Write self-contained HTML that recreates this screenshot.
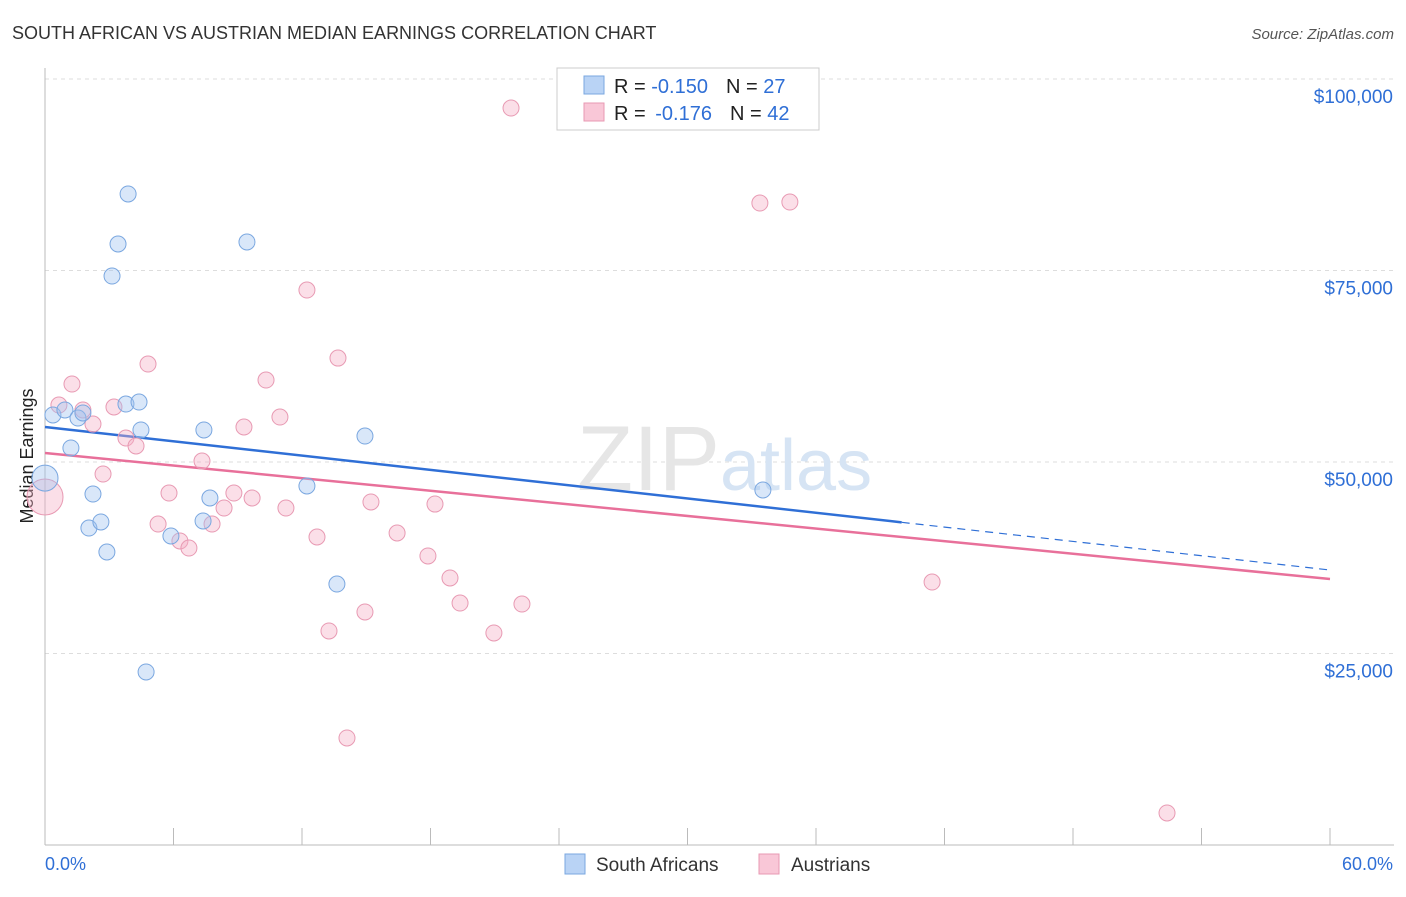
<!DOCTYPE html>
<html><head><meta charset="utf-8"><style>
body{margin:0;background:#fff;font-family:"Liberation Sans",sans-serif;}
svg text{font-family:"Liberation Sans",sans-serif;}
</style></head><body>
<svg id="chart" width="1406" height="892">
<text x="12" y="39" font-size="18" fill="#333">SOUTH AFRICAN VS AUSTRIAN MEDIAN EARNINGS CORRELATION CHART</text>
<text x="1394" y="39" font-size="15" fill="#555" font-style="italic" text-anchor="end">Source: ZipAtlas.com</text>
<text x="27" y="456" font-size="18" fill="#222" text-anchor="middle" dominant-baseline="central" transform="rotate(-90 27 456)">Median Earnings</text>
<g id="grid"></g>
<text x="720" y="490" font-size="92" fill="#e6e6e6" text-anchor="end" font-family="Liberation Serif">ZIP</text>
<text x="720" y="490" font-size="72" fill="#d6e4f4">atlas</text>
<g id="lines"></g>
<g id="points"></g>
<g>
<rect x="557" y="68" width="262" height="62" fill="#fff" stroke="#ccc"/>
<rect x="584" y="76" width="20" height="18" fill="#b9d3f5" stroke="#7aa7e0"/>
<rect x="584" y="103" width="20" height="18" fill="#f9c7d7" stroke="#e89ab3"/>
<text x="614" y="93" font-size="20" fill="#222">R = <tspan fill="#2f6fd6">-0.150</tspan><tspan dx="18">N = </tspan><tspan fill="#2f6fd6">27</tspan></text>
<text x="614" y="120" font-size="20" fill="#222">R = <tspan dx="4" fill="#2f6fd6">-0.176</tspan><tspan dx="18">N = </tspan><tspan fill="#2f6fd6">42</tspan></text>
</g>
<g>
<rect x="565" y="854" width="20" height="20" fill="#b9d3f5" stroke="#7aa7e0"/>
<text x="596" y="871" font-size="19" fill="#333">South Africans</text>
<rect x="759" y="854" width="20" height="20" fill="#f9c7d7" stroke="#e89ab3"/>
<text x="791" y="871" font-size="19" fill="#333">Austrians</text>
</g>
<text x="45" y="870" font-size="18" fill="#2f6fd6">0.0%</text>
<text x="1393" y="870" font-size="18" fill="#2f6fd6" text-anchor="end">60.0%</text>
</svg>
<script>
const yTicks=[25000,50000,75000,100000];
const yTickLabels=["$25,000","$50,000","$75,000","$100,000"];
const xTicks=[0,6,12,18,24,30,36,42,48,54,60];
const blueX=[0,0.37,0.93,1.54,1.77,1.21,2.24,2.05,2.61,2.89,3.41,3.13,3.88,3.78,4.39,4.48,4.72,5.88,7.42,7.70,7.38,9.43,12.23,13.63,14.94,33.52];
const blueY=[47900,56140,56790,55740,56400,51830,45820,41380,42170,38250,78460,74280,84990,57570,57830,54180,22590,40340,54180,45300,42300,78720,46870,34070,53390,46350];
const blueR=[13,8,8,8,8,8,8,8,8,8,8,8,8,8,8,8,8,8,8,8,8,8,8,8,8,8];
const pinkX=[0,0.65,1.26,1.77,2.24,2.71,3.22,3.78,4.25,4.81,5.28,5.79,6.30,6.72,7.33,7.80,8.36,8.82,9.29,9.67,10.32,10.97,11.25,12.23,12.70,13.26,13.68,14.10,14.94,15.22,16.44,17.88,18.21,18.91,19.38,20.96,21.76,22.27,33.38,34.78,41.42,52.39];
const pinkY=[45430,57440,60180,56790,54960,48430,57180,53130,52090,62790,41900,45950,39690,38770,50130,41900,43990,45950,54570,45300,60700,55870,43990,72450,40210,27940,63570,13970,30420,44780,40730,37730,44510,34860,31590,27680,96210,31460,83810,83940,34330,4180];
const pinkR=[18,8,8,8,8,8,8,8,8,8,8,8,8,8,8,8,8,8,8,8,8,8,8,8,8,8,8,8,8,8,8,8,8,8,8,8,8,8,8,8,8,8];
const blueTrend=[54570,35900];
const blueSolidEnd=40;
const pinkTrend=[51180,34730];
const NS="http://www.w3.org/2000/svg";
const X=v=>45+v*(1285/60);
const Y=v=>845-v*(191.5/25000);
function mk(t,a,p){const e=document.createElementNS(NS,t);for(const k in a)e.setAttribute(k,a[k]);p.appendChild(e);return e;}
const grid=document.getElementById('grid');
yTicks.forEach((t,i)=>{
 const l=mk('line',{x1:45,x2:1394,y1:Y(t),y2:Y(t),stroke:'#ddd','stroke-dasharray':'4,4'},grid);
 
 
 const tx=mk('text',{x:1393,y:Y(t)+24,'font-size':19,fill:'#2f6fd6','text-anchor':'end'},grid);
 tx.textContent=yTickLabels[i];
 
 
});
const ax=mk('line',{x1:45,x2:1394,y1:845,y2:845,stroke:'#bbb'},grid);


const ay=mk('line',{x1:45,x2:45,y1:68,y2:845,stroke:'#bbb'},grid);


xTicks.forEach(t=>{
 const l=mk('line',{x1:X(t),x2:X(t),y1:828,y2:845,stroke:'#bbb'},grid);
 
 
});
const pts=document.getElementById('points');
pinkX.forEach((x,i)=>{
 const c=mk('circle',{cx:X(x),cy:Y(pinkY[i]),r:pinkR[i],fill:'rgba(245,175,198,0.4)',stroke:'#e89ab3','stroke-width':1},pts);
 
 
});
blueX.forEach((x,i)=>{
 const c=mk('circle',{cx:X(x),cy:Y(blueY[i]),r:blueR[i],fill:'rgba(160,196,240,0.4)',stroke:'#7aa7e0','stroke-width':1},pts);
 
 
});
const ln=document.getElementById('lines');
const by=x=>blueTrend[0]+(blueTrend[1]-blueTrend[0])*x/60;
const b1=mk('line',{x1:X(0),y1:Y(by(0)),x2:X(blueSolidEnd),y2:Y(by(blueSolidEnd)),stroke:'#2f6fd6','stroke-width':2.5},ln);


const b2=mk('line',{x1:X(blueSolidEnd),y1:Y(by(blueSolidEnd)),x2:X(60),y2:Y(by(60)),stroke:'#2f6fd6','stroke-width':1.2,'stroke-dasharray':'8,6'},ln);


const p1=mk('line',{x1:X(0),y1:Y(pinkTrend[0]),x2:X(60),y2:Y(pinkTrend[1]),stroke:'#e8709a','stroke-width':2.5},ln);


</script>
</body></html>
